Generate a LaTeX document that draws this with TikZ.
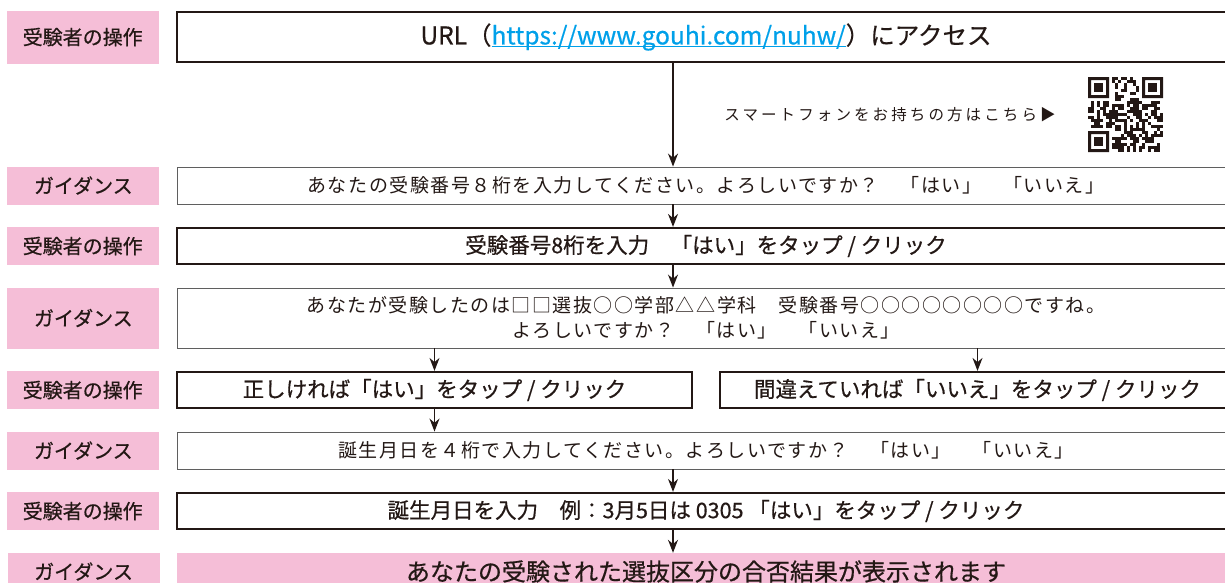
\documentclass[tikz,border=0pt]{standalone}
\usepackage{fontspec}
\usetikzlibrary{arrows.meta,positioning}
\newfontfamily\gothic[FakeBold=0.6]{Noto Sans CJK JP}
\newfontfamily\mincho[LetterSpace=8]{Noto Sans CJK JP}
\newfontfamily\minchowide[LetterSpace=20]{Noto Sans CJK JP}
\definecolor{tagpink}{RGB}{245,190,215}
\definecolor{ink}{RGB}{35,24,21}
\definecolor{urlblue}{RGB}{0,160,233}
\definecolor{edgegray}{RGB}{95,95,95}
\newcommand\ulink[1]{\setbox0\hbox{#1}\rlap{\rule[-2.5pt]{\wd0}{1pt}}\box0}
\tikzset{
  tag/.style={rectangle, fill=tagpink, minimum width=152pt, minimum height=38pt, inner sep=0pt, text=ink, font=\gothic\fontsize{20}{24}\selectfont},
  opbox/.style={rectangle, draw=ink, line width=2.2pt, minimum width=1058pt, minimum height=36pt, inner sep=0pt, text=ink, font=\gothic\fontsize{21.5}{26}\selectfont},
  halfop/.style={opbox, minimum width=515pt},
  guide/.style={rectangle, draw=edgegray, line width=0.9pt, minimum width=1058pt, minimum height=37pt, inner sep=0pt, align=center, text=ink, font=\mincho\fontsize{19}{25}\selectfont},
  result/.style={rectangle, fill=tagpink, minimum width=1058pt, minimum height=37pt, inner sep=0pt, text=ink, font=\gothic\fontsize{24}{30}\selectfont},
  arr/.style={-{Stealth[length=13pt,width=10pt]}, line width=1.3pt, draw=ink}
}

\begin{document}
\begin{tikzpicture}[x=1pt, y=-1pt, node distance=17pt]
\useasboundingbox (0,0) rectangle (1225,582);
\coordinate (spine) at (673,0);

\node[opbox, minimum height=50pt, font=\gothic\fontsize{24.5}{28}\selectfont] (access) at (706,37) {URL（\textcolor{urlblue}{\ulink{https://www.gouhi.com/nuhw/}}）にアクセス};
\node[tag, minimum height=53pt, left=of access] (t1) {受験者の操作};
\node[guide] (ask1) at (706,185.5) {あなたの受験番号８桁を入力してください。よろしいですか？　「はい」　「いいえ」};
\node[tag, left=of ask1] (t2) {ガイダンス};
\node[opbox] (entry) at (706,246) {受験番号8桁を入力　「はい」をタップ / クリック};
\node[tag, left=of entry] (t3) {受験者の操作};
\node[guide, minimum height=60pt] (ask2) at (706,318) {あなたが受験したのは□□選抜○○学部△△学科　受験番号○○○○○○○○ですね。\\よろしいですか？　「はい」　「いいえ」};
\node[tag, minimum height=61pt, left=of ask2] (t4) {ガイダンス};
\node[halfop] (yes) at (434.5,390) {正しければ「はい」をタップ / クリック};
\node[halfop] (no) at (977.5,390) {間違えていれば「いいえ」をタップ / クリック};
\node[tag, left=of yes] (t5) {受験者の操作};
\node[guide] (ask3) at (706,450.5) {誕生月日を４桁で入力してください。よろしいですか？　「はい」　「いいえ」};
\node[tag, left=of ask3] (t6) {ガイダンス};
\node[opbox] (birth) at (706,511) {誕生月日を入力　例：3月5日は 0305 「はい」をタップ / クリック};
\node[tag, left=of birth] (t7) {受験者の操作};
\node[result] (outcome) at (706,571.5) {あなたの受験された選抜区分の合否結果が表示されます};
\node[tag, minimum height=37pt, left=of outcome] (t8) {ガイダンス};

% smartphone hint and QR code
\node[text=ink, font=\minchowide\fontsize{15.5}{18}\selectfont] (phone) at (890,115) {スマートフォンをお持ちの方はこちら▶};
\begin{scope}[shift={(1088,77)}]
  \pgfmathsetseed{31}
  \foreach \i in {0,...,24}{
    \foreach \j in {0,...,24}{
      \pgfmathrandominteger{\bit}{0}{1}
      \ifnum\bit=1 \fill[ink] (3*\i,3*\j) rectangle ++(3,3);\fi
    }
  }
  \foreach \cx/\cy/\wx/\wy in {0/0/0/0, 18/0/17/0, 0/18/0/17}{
    \fill[white] (3*\wx,3*\wy) rectangle ++(24,24);
    \fill[ink, even odd rule] (3*\cx,3*\cy) rectangle ++(21,21) (3*\cx+3,3*\cy+3) rectangle ++(15,15);
    \fill[ink] (3*\cx+6,3*\cy+6) rectangle ++(9,9);
  }
\end{scope}

\draw[arr] (access.south -| spine) -- (ask1.north -| spine);
\draw[arr] (ask1.south -| spine) -- (entry.north -| spine);
\draw[arr] (entry.south -| spine) -- (ask2.north -| spine);
\draw[arr] (ask2.south -| yes) -- (yes.north);
\draw[arr] (ask2.south -| no) -- (no.north);
\draw[arr] (yes.south) -- (ask3.north -| yes);
\draw[arr] (ask3.south -| spine) -- (birth.north -| spine);
\draw[arr] (birth.south -| spine) -- (outcome.north -| spine);
\end{tikzpicture}
\end{document}
